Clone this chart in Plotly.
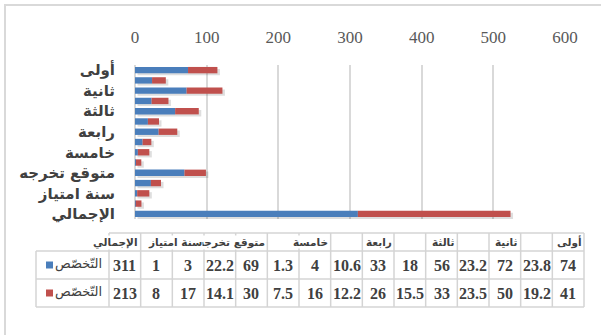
import plotly.graph_objects as go

# ---- data ----
categories = ["أولى", "", "ثانية", "", "ثالثة", "", "رابعة", "", "خامسة", "",
              "متوقع تخرجه", "", "سنة امتياز", "", "الإجمالي"]
series_names = ["التّخصّص", "التّخصّص"]
series_blue = [74, 23.8, 72, 23.2, 56, 18, 33, 10.6, 4, 1.3, 69, 22.2, 3, 1, 311]
series_red = [41, 19.2, 50, 23.5, 33, 15.5, 26, 12.2, 16, 7.5, 30, 14.1, 17, 8, 213]
x_ticks = [0, 100, 200, 300, 400, 500, 600]

BLUE = "#4a7ebb"
RED = "#c0504d"
GRID = "#d9d9d9"
SERIF = "Liberation Serif, Times New Roman, serif"
ARABIC = "DejaVu Sans, sans-serif"

W, H = 601, 335
L, R, T, B = 135, 36, 65, 116
PW, PH = W - L - R, H - T - B

def px2x(px):
    return (px - L) / PW

def px2y(py):
    return (H - B - py) / PH

ypos = list(range(len(categories)))
totals = [b + r for b, r in zip(series_blue, series_red)]
BW = 0.62
units_per_px_x = 600 / PW
units_per_px_y = 15 / PH

fig = go.Figure()
# soft drop shadow behind bars
fig.add_trace(go.Bar(y=ypos, x=totals, orientation="h", base=2.5 * units_per_px_x,
                     marker_color="rgba(0,0,0,0.13)", width=BW,
                     offset=-BW / 2 + 2 * units_per_px_y, marker_line_width=0,
                     hoverinfo="skip", showlegend=False))
fig.add_trace(go.Bar(y=ypos, x=series_blue, orientation="h", marker_color=BLUE, base=0,
                     name=series_names[0], width=BW, offset=-BW / 2, marker_line_width=0))
fig.add_trace(go.Bar(y=ypos, x=series_red, orientation="h", marker_color=RED, base=series_blue,
                     name=series_names[1], width=BW, offset=-BW / 2, marker_line_width=0))

fig.update_layout(
    barmode="overlay",
    width=W, height=H,
    margin=dict(l=L, r=R, t=T, b=B),
    paper_bgcolor="white", plot_bgcolor="white",
    showlegend=False,
    xaxis=dict(side="top", range=[0, 600], tickvals=x_ticks,
               tickfont=dict(family=SERIF, size=17, color="#595959"),
               showgrid=True, gridcolor=GRID, gridwidth=1.5,
               zeroline=True, zerolinecolor=GRID, zerolinewidth=1.5,
               showline=False, ticks="", ticklabelstandoff=18),
    yaxis=dict(range=[14.5, -0.5], tickvals=ypos, ticktext=categories,
               tickfont=dict(family=ARABIC, size=15, color="#404040", weight="bold"),
               showgrid=False, zeroline=False, showline=False, ticks="",
               ticklabelstandoff=19),
)

shapes = []
annotations = []

# outer chart border
shapes.append(dict(type="rect", xref="paper", yref="paper",
                   x0=px2x(5), x1=px2x(612), y0=px2y(5), y1=px2y(345),
                   line=dict(color="#d9d9d9", width=2), fillcolor="rgba(0,0,0,0)", layer="below"))

# data table
n = len(categories)
right_edge = 584.0
col_w = (584.0 - 109.0) / n
leg_left = 36.0
y_head_top, y_head_bot, y_r1_bot, y_r2_bot = 233.0, 251.0, 279.0, 307.0
TBL = "#d4d4d4"

def hline(x0, x1, y):
    shapes.append(dict(type="line", xref="paper", yref="paper",
                       x0=px2x(x0), x1=px2x(x1), y0=px2y(y), y1=px2y(y),
                       line=dict(color=TBL, width=1.5)))

def vline(x, y0, y1):
    shapes.append(dict(type="line", xref="paper", yref="paper",
                       x0=px2x(x), x1=px2x(x), y0=px2y(y0), y1=px2y(y1),
                       line=dict(color=TBL, width=1.5)))

left_data = right_edge - n * col_w
hline(left_data, right_edge, y_head_top)
for yy in (y_head_bot, y_r1_bot, y_r2_bot):
    hline(leg_left, right_edge, yy)
vline(leg_left, y_head_bot, y_r2_bot)
for k in range(n + 1):
    vline(right_edge - k * col_w, y_head_top, y_r2_bot)

for i, cat in enumerate(categories):
    cx_right = right_edge - i * col_w
    cx_mid = cx_right - col_w / 2
    if cat:
        annotations.append(dict(xref="paper", yref="paper", x=px2x(cx_right - 1.5),
                                y=px2y((y_head_top + y_head_bot) / 2), text=cat,
                                xanchor="right", yanchor="middle", showarrow=False,
                                bgcolor="white", borderpad=0,
                                font=dict(family=ARABIC, size=10.5, color="#404040", weight="bold")))
    for row, vals in enumerate((series_blue, series_red)):
        y0 = y_head_bot if row == 0 else y_r1_bot
        y1 = y_r1_bot if row == 0 else y_r2_bot
        v = vals[i]
        txt = str(int(v)) if float(v).is_integer() else str(v)
        annotations.append(dict(xref="paper", yref="paper", x=px2x(cx_mid),
                                y=px2y((y0 + y1) / 2), text=txt,
                                xanchor="center", yanchor="middle", showarrow=False,
                                font=dict(family=SERIF, size=16, color="#404040", weight="bold")))

# legend keys in table
for row, (nm, col) in enumerate(zip(series_names, (BLUE, RED))):
    y0 = y_head_bot if row == 0 else y_r1_bot
    y1 = y_r1_bot if row == 0 else y_r2_bot
    ym = (y0 + y1) / 2
    annotations.append(dict(xref="paper", yref="paper", x=px2x(104), y=px2y(ym - 1), text=nm,
                            xanchor="right", yanchor="middle", showarrow=False,
                            font=dict(family=ARABIC, size=13, color="#404040")))
    shapes.append(dict(type="rect", xref="paper", yref="paper",
                       x0=px2x(46), x1=px2x(53), y0=px2y(ym - 3.5), y1=px2y(ym + 3.5),
                       line=dict(width=0), fillcolor=col))

fig.update_layout(shapes=shapes, annotations=annotations)
fig.write_html("out.html")
